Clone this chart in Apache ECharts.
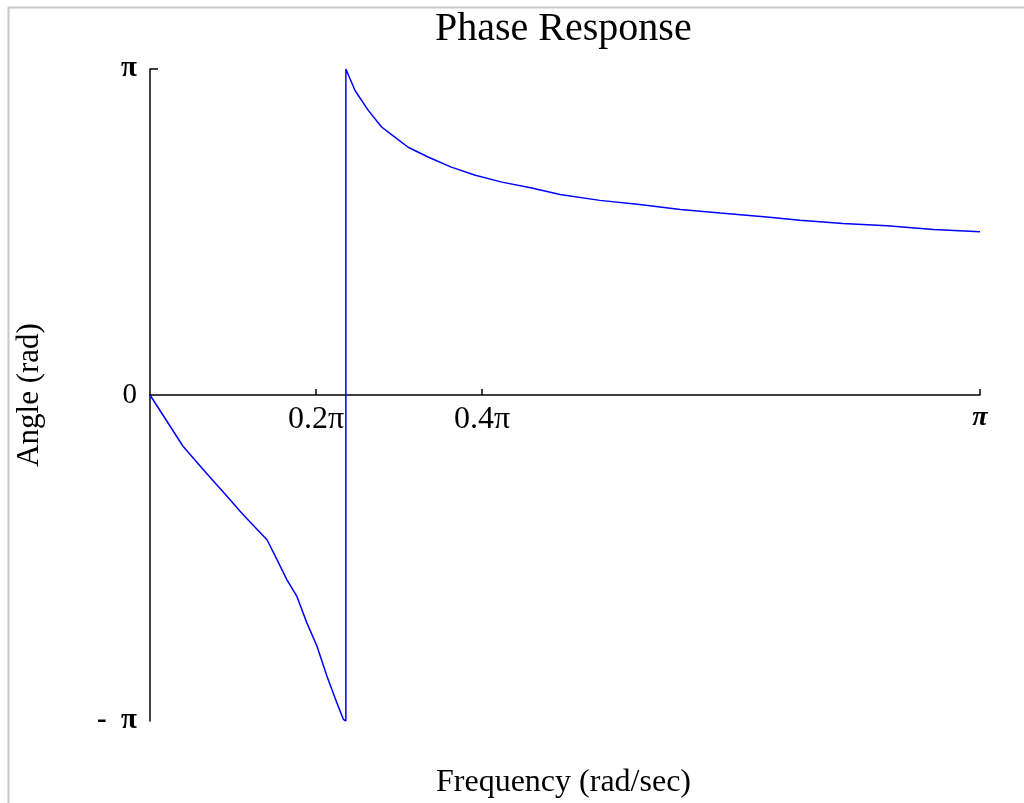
<!DOCTYPE html>
<html>
<head>
<meta charset="utf-8">
<script src="https://cdn.jsdelivr.net/npm/echarts@6/dist/echarts.min.js"></script>
<style>
  html, body { margin: 0; padding: 0; background: #fff; }
  #chart { width: 1024px; height: 803px; }
</style>
</head>
<body>
<div id="chart"></div>
<script>
var chart = echarts.init(document.getElementById('chart'))

// frequency and phase, both in units of pi
var freq = [0, 0.04, 0.068, 0.096, 0.108, 0.12, 0.141, 0.153, 0.165, 0.177, 0.189, 0.201, 0.213, 0.225, 0.233, 0.236,
  0.236, 0.247, 0.263, 0.279, 0.295, 0.311, 0.335, 0.363, 0.392, 0.424, 0.46, 0.494, 0.542, 0.59, 0.639, 0.687, 0.743, 0.783, 0.835, 0.888, 0.944, 1.0]
var phase = [0, -0.158, -0.24, -0.32, -0.355, -0.388, -0.444, -0.505, -0.567, -0.618, -0.699, -0.769, -0.861, -0.943, -0.995, -1.0,
  1.0, 0.934, 0.873, 0.822, 0.791, 0.76, 0.73, 0.699, 0.674, 0.653, 0.635, 0.615, 0.597, 0.584, 0.569, 0.558, 0.546, 0.536, 0.526, 0.519, 0.508, 0.501]

var xTicks = [0.2, 0.4, 1]
var xTickLabels = { 0.2: '0.2π', 0.4: '0.4π', 1: '{b|π}' }
var yTicks = [-1, 0, 1]
var yTickLabels = { '-1': '{b|-  π}', 0: '0', 1: '{b|π}' }

var data = []
for (var i = 0; i < freq.length; i++) {
  data.push([freq[i], phase[i]])
}

var serif = '"Liberation Serif", "DejaVu Serif", serif'

var option = {
  backgroundColor: '#fff',
  animation: false,
  title: [
    {
      text: 'Phase Response',
      left: 430,
      top: 4,
      textStyle: { fontFamily: serif, fontSize: 40, fontWeight: 'normal', color: '#000' }
    },
    {
      text: 'Frequency (rad/sec)',
      left: 431,
      top: 762,
      textStyle: { fontFamily: serif, fontSize: 32, fontWeight: 'normal', color: '#000' }
    }
  ],
  grid: { left: 150, right: 44, top: 69, bottom: 82, containLabel: false, outerBoundsMode: 'none' },
  xAxis: {
    type: 'value',
    min: 0,
    max: 1,
    offset: -326,
    splitLine: { show: false },
    axisLine: { onZero: false, lineStyle: { color: '#000', width: 1.5 } },
    axisTick: { show: true, inside: true, length: 6, customValues: xTicks, lineStyle: { color: '#000', width: 1.5 } },
    axisLabel: {
      customValues: xTicks,
      margin: 9,
      fontFamily: serif,
      fontSize: 32,
      color: '#000',
      formatter: function (v) { return xTickLabels[v] },
      rich: { b: { fontFamily: serif, fontSize: 28, fontWeight: 'bold', fontStyle: 'italic', color: '#000' } }
    }
  },
  yAxis: {
    type: 'value',
    min: -1,
    max: 1,
    name: 'Angle (rad)',
    nameLocation: 'middle',
    nameRotate: 90,
    nameGap: 105,
    nameTextStyle: { fontFamily: serif, fontSize: 31, color: '#000' },
    splitLine: { show: false },
    axisLine: { show: true, onZero: false, lineStyle: { color: '#000', width: 1.5 } },
    axisTick: { show: true, inside: true, length: 8, customValues: [1], lineStyle: { color: '#000', width: 1.5 } },
    axisLabel: {
      customValues: yTicks,
      margin: 13,
      fontFamily: serif,
      fontSize: 29,
      color: '#000',
      formatter: function (v) { return yTickLabels[v] },
      rich: { b: { fontFamily: serif, fontSize: 29, fontWeight: 'bold', color: '#000' } }
    }
  },
  graphic: [
    { type: 'line', shape: { x1: 8, y1: 7.5, x2: 1024, y2: 7.5 }, style: { stroke: '#c8c8c8', lineWidth: 2 } },
    { type: 'line', shape: { x1: 8.5, y1: 7, x2: 8.5, y2: 803 }, style: { stroke: '#c8c8c8', lineWidth: 2 } }
  ],
  series: [
    {
      type: 'line',
      data: data,
      showSymbol: false,
      smooth: false,
      lineStyle: { color: '#0000ff', width: 1.5 }
    }
  ]
}
chart.setOption(option)
</script>
</body>
</html>
